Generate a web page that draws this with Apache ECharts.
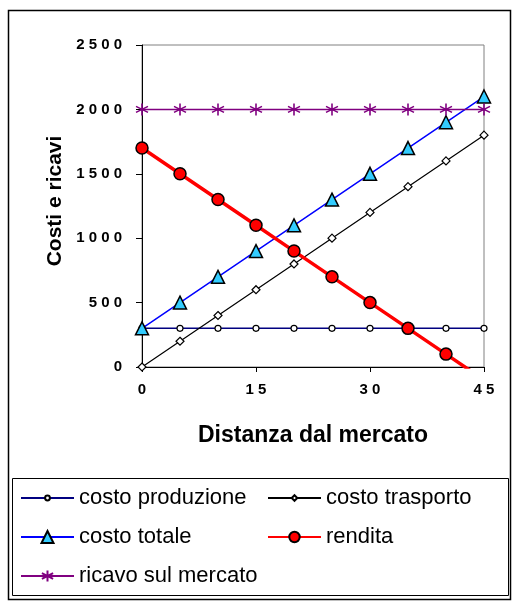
<!DOCTYPE html>
<html>
<head>
<meta charset="utf-8">
<script src="https://cdn.jsdelivr.net/npm/echarts@6/dist/echarts.min.js"></script>
<style>html,body{margin:0;padding:0;background:#fff;}#c{width:512px;height:601px;}</style>
</head>
<body>
<div id="c"></div>
<script>
var distanze = [0, 5, 10, 15, 20, 25, 30, 35, 40, 45];
var costoProduzione = [300, 300, 300, 300, 300, 300, 300, 300, 300, 300];
var costoTrasporto = [0, 200, 400, 600, 800, 1000, 1200, 1400, 1600, 1800];
var costoTotale = [300, 500, 700, 900, 1100, 1300, 1500, 1700, 1900, 2100];
var rendita = [1700, 1500, 1300, 1100, 900, 700, 500, 300, 100, -100];
var ricavoMercato = [2000, 2000, 2000, 2000, 2000, 2000, 2000, 2000, 2000, 2000];
var nomi = ['costo produzione', 'costo trasporto', 'costo totale', 'rendita', 'ricavo sul mercato'];

function pairs(vals) { return distanze.map(function (d, i) { return [d, vals[i]]; }); }
function spaced(v) { return String(v).split('').join(' '); }

var chart = echarts.init(document.getElementById('c'), null, {renderer: 'canvas'});
var labelFont = {fontFamily: 'Liberation Sans, Arial, sans-serif', fontWeight: 'bold', fontSize: 15, color: '#000'};
var legendText = {fontFamily: 'Liberation Sans, Arial, sans-serif', fontSize: 22, color: '#000'};
var star = 'path://M6,0L6,12M0.8,3L11.2,9M0.8,9L11.2,3';

function leg(name, left, rowCenter, h) {
  return {
    data: [name], left: left, top: rowCenter - 10, itemWidth: 53, itemHeight: h,
    textStyle: legendText, selectedMode: false, padding: 0
  };
}

chart.setOption({
  animation: false,
  backgroundColor: '#fff',
  grid: {left: 142, right: 28, top: 45, bottom: 234, show: true, borderColor: '#808080', borderWidth: 1, containLabel: false},
  xAxis: {
    type: 'value', min: 0, max: 45, interval: 15,
    name: 'Distanza dal mercato', nameLocation: 'middle', nameGap: 57,
    nameTextStyle: {fontFamily: 'Liberation Sans, Arial, sans-serif', fontWeight: 'bold', fontSize: 23, color: '#000'},
    axisLine: {show: true, lineStyle: {color: '#000', width: 1}},
    axisTick: {show: true, length: 5, lineStyle: {color: '#000'}},
    axisLabel: Object.assign({margin: 15, formatter: spaced}, labelFont),
    splitLine: {show: false}
  },
  yAxis: {
    type: 'value', min: 0, max: 2500, interval: 500,
    name: 'Costi e ricavi', nameLocation: 'middle', nameGap: 76,
    nameTextStyle: {fontFamily: 'Liberation Sans, Arial, sans-serif', fontWeight: 'bold', fontSize: 21, color: '#000', padding: [0, 0, 0, 10]},
    axisLine: {show: true, lineStyle: {color: '#000', width: 1}},
    axisTick: {show: true, length: 6, lineStyle: {color: '#000'}},
    axisLabel: Object.assign({margin: 20, formatter: spaced}, labelFont),
    splitLine: {show: false}
  },
  legend: [
    leg(nomi[0], 20, 497, 6),
    leg(nomi[1], 267, 497, 7),
    leg(nomi[2], 20, 536, 15),
    leg(nomi[3], 267, 536, 13),
    leg(nomi[4], 20, 575, 14)
  ],
  graphic: [
    {type: 'rect', shape: {x: 8.5, y: 10.5, width: 502, height: 589}, style: {fill: 'none', stroke: '#000', lineWidth: 1.5}, silent: true},
    {type: 'rect', shape: {x: 12.5, y: 478.5, width: 496, height: 117}, style: {fill: 'none', stroke: '#000', lineWidth: 1}, silent: true}
  ],
  series: [
    {name: nomi[0], type: 'line', data: pairs(costoProduzione), symbol: 'circle', symbolSize: 6, showAllSymbol: true,
      lineStyle: {color: '#000080', width: 1.5}, itemStyle: {color: '#fff', borderColor: '#000', borderWidth: 1.2}},
    {name: nomi[1], type: 'line', data: pairs(costoTrasporto), symbol: 'diamond', symbolSize: 8, showAllSymbol: true,
      lineStyle: {color: '#000', width: 1.2}, itemStyle: {color: '#fff', borderColor: '#000', borderWidth: 1.2}},
    {name: nomi[2], type: 'line', data: pairs(costoTotale), symbol: 'triangle', symbolSize: 13, showAllSymbol: true,
      lineStyle: {color: '#0000ff', width: 1.5}, itemStyle: {color: '#33ccff', borderColor: '#000', borderWidth: 1.5}},
    {name: nomi[3], type: 'line', data: pairs(rendita), symbol: 'circle', symbolSize: 12, showAllSymbol: true, clip: true,
      lineStyle: {color: '#ff0000', width: 3.5}, itemStyle: {color: '#ff0000', borderColor: '#000', borderWidth: 1.5}},
    {name: nomi[4], type: 'line', data: pairs(ricavoMercato), symbol: star, symbolSize: 12, showAllSymbol: true,
      lineStyle: {color: '#800080', width: 1.5}, itemStyle: {color: '#800080', borderColor: '#800080', borderWidth: 1.6}}
  ]
});
</script>
</body>
</html>
